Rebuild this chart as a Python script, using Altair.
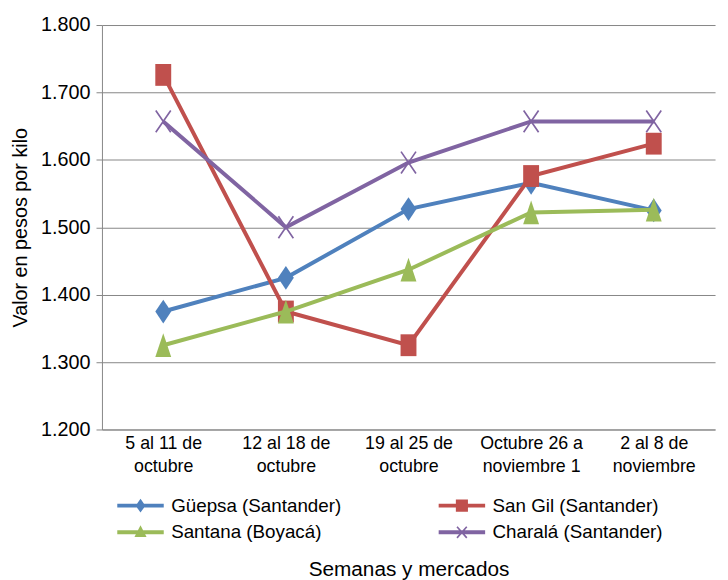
import altair as alt
import pandas as pd
import math

# ---------------- data ----------------
semanas = [
    "5 al 11 de|octubre",
    "12 al 18 de|octubre",
    "19 al 25 de|octubre",
    "Octubre 26 a|noviembre 1",
    "2 al 8 de|noviembre",
]
series = [
    "Güepsa (Santander)",
    "San Gil (Santander)",
    "Santana (Boyacá)",
    "Charalá (Santander)",
]
guepsa = [1375, 1425, 1527, 1566, 1525]
san_gil = [1726, 1375, 1325, 1576, 1624]
santana = [1325, 1375, 1437, 1522, 1526]
charala = [1657, 1500, 1596, 1657, 1657]
colores = ["#4F81BD", "#C0504D", "#9BBB59", "#8064A2"]
y_ticks = [1200, 1300, 1400, 1500, 1600, 1700, 1800]

valores = [guepsa, san_gil, santana, charala]
rows = []
for s, vals in zip(series, valores):
    for w, v in zip(semanas, vals):
        rows.append({"semana": w, "serie": s, "valor": v})
df = pd.DataFrame(rows)


# ---------------- marker shapes ----------------
def poly(pts):
    area = sum(pts[i][0] * pts[(i + 1) % len(pts)][1] - pts[(i + 1) % len(pts)][0] * pts[i][1]
               for i in range(len(pts)))
    if area < 0:
        pts = pts[::-1]
    return "M" + "L".join(f"{x:.3f},{y:.3f}" for x, y in pts) + "Z"


def bar(x1, y1, x2, y2, t):
    dx, dy = x2 - x1, y2 - y1
    L = math.hypot(dx, dy)
    nx, ny = -dy / L * t, dx / L * t
    return poly([(x1 + nx, y1 + ny), (x2 + nx, y2 + ny), (x2 - nx, y2 - ny), (x1 - nx, y1 - ny)])


def diamond(w, h):
    return poly([(0, -h), (w, 0), (0, h), (-w, 0)])


def rect(w, h):
    return poly([(-w, -h), (w, -h), (w, h), (-w, h)])


def tri(w, top, bot):
    return poly([(0, -top), (w, bot), (-w, bot)])


def cross(w, h, t):
    return bar(-w, -h, w, h, t) + bar(w, -h, -w, h, t)


marker_paths = [
    diamond(0.67, 1.0),
    rect(0.67, 0.92),
    tri(0.67, 1.0, 1.0),
    cross(0.63, 0.92, 0.07),
]

# legend symbols: line + marker, drawn wider than the nominal symbol box
line_seg = rect(2.0, 0.17)
legend_paths = [
    line_seg + diamond(0.42, 0.60),
    line_seg + rect(0.52, 0.52),
    line_seg + tri(0.52, 0.60, 0.40),
    line_seg + cross(0.42, 0.48, 0.07),
]

FONT = "Liberation Sans"
GRAY = "#868686"

x_enc = alt.X(
    "semana:N",
    sort=semanas,
    scale=alt.Scale(type="point", padding=0.5),
    axis=alt.Axis(
        title="Semanas y mercados",
        labelExpr="split(datum.label, '|')",
        labelAngle=0,
        ticks=False,
        grid=False,
        labelFontSize=18,
        labelLineHeight=23,
        labelPadding=5,
        titleFontSize=21,
        titleFontWeight="normal",
        titlePadding=85,
        domainColor=GRAY,
        labelColor="black",
        titleColor="black",
    ),
)
y_enc = alt.Y(
    "valor:Q",
    scale=alt.Scale(domain=[1200, 1800], nice=False, zero=False),
    axis=alt.Axis(
        title="Valor en pesos por kilo",
        values=y_ticks,
        labelExpr="replace(format(datum.value, ','), ',', '.')",
        grid=True,
        gridColor=GRAY,
        gridWidth=1,
        domainColor=GRAY,
        tickColor=GRAY,
        tickSize=6,
        labelPadding=6,
        labelFontSize=20,
        titleFontSize=20,
        titleFontWeight="normal",
        titlePadding=10,
        labelColor="black",
        titleColor="black",
    ),
)

base = alt.Chart(df)

layers = []
for i, s in enumerate(series):
    sub = base.transform_filter(alt.datum.serie == s)
    layers.append(
        sub.mark_line(strokeWidth=4).encode(
            x=x_enc,
            y=y_enc,
            stroke=alt.Stroke("serie:N", scale=alt.Scale(domain=series, range=colores), legend=None),
        )
    )
    layers.append(
        sub.mark_point(shape=marker_paths[i], filled=True, size=576, opacity=1, strokeWidth=0).encode(
            x=x_enc,
            y=y_enc,
            fill=alt.Fill("serie:N", scale=alt.Scale(domain=series, range=colores), legend=None),
        )
    )

leg = alt.Legend(
    title=None,
    orient="none",
    direction="horizontal",
    legendX=27,
    legendY=474,
    columns=2,
    columnPadding=97,
    rowPadding=5,
    symbolSize=552,
    symbolStrokeWidth=0,
    symbolOpacity=1,
    labelFontSize=19,
    labelFont=FONT,
    labelColor="black",
    labelOffset=19,
    labelLimit=400,
)

legend_layer = base.mark_point(filled=True, opacity=0).encode(
    x=x_enc,
    y=y_enc,
    color=alt.Color("serie:N", scale=alt.Scale(domain=series, range=colores), legend=leg),
    shape=alt.Shape("serie:N", scale=alt.Scale(domain=series, range=legend_paths), legend=leg),
)
layers.insert(0, legend_layer)

chart = (
    alt.layer(*layers)
    .properties(
        width=620,
        height=409,
        padding={"left": 95, "top": 14, "right": 5, "bottom": 150},
        autosize=alt.AutoSizeParams(type="none"),
    )
    .configure(font=FONT)
    .configure_view(stroke=None)
)

chart.save("out.html", embed_options={"renderer": "svg", "actions": False})
